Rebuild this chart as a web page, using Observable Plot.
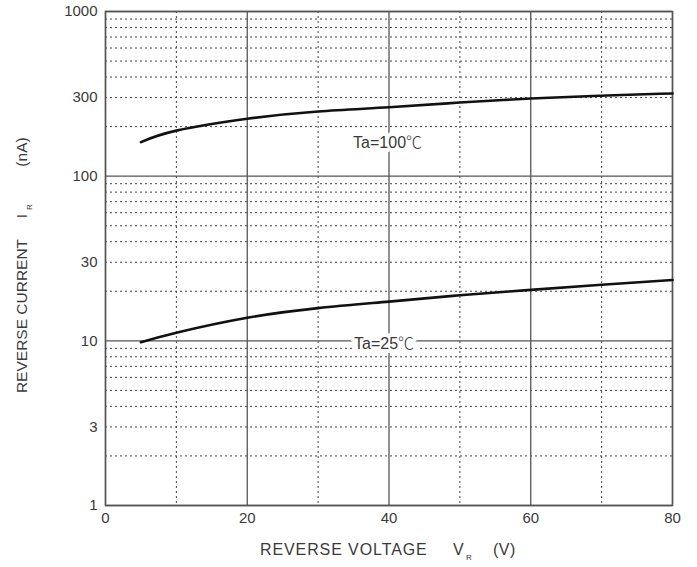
<!DOCTYPE html>
<html><head><meta charset="utf-8">
<script src="https://cdn.jsdelivr.net/npm/d3@7"></script>
<script src="https://cdn.jsdelivr.net/npm/@observablehq/plot@0.6"></script>
<style>body{margin:0;background:#fff;} svg{display:block;}</style>
</head><body><div id="chart"></div>
<script>
const voltage = [5, 10, 20, 30, 40, 50, 60, 70, 80];
const current100 = [161, 189, 223, 247, 262, 280, 296, 308, 318];
const current25 = [9.8, 11.2, 13.8, 15.8, 17.3, 18.9, 20.4, 21.9, 23.4];
const xMajor = [0, 20, 40, 60, 80];
const xMinor = [10, 30, 50, 70];
const yMajor = [1, 10, 100, 1000];
const yTicks = [1, 3, 10, 30, 100, 300, 1000];
const yMinor = [];
for (const d of [1, 10, 100]) for (let k = 2; k <= 9; k++) yMinor.push(d * k);
const labels = [
  {x: 39.8, y: 160, text: "Ta=100℃"},
  {x: 39.3, y: 9.55, text: "Ta=25℃"}
];
const rows = [
  ...voltage.map((v, i) => ({v, i: current100[i], s: "100"})),
  ...voltage.map((v, i) => ({v, i: current25[i], s: "25"}))
];
const font = "'Liberation Sans', Arial, sans-serif";
const plot = Plot.plot({
  width: 697, height: 567,
  marginLeft: 105, marginRight: 25, marginTop: 11, marginBottom: 62,
  style: {fontFamily: font, fontSize: "15px", color: "#3a3a3a", background: "#fff"},
  x: {domain: [0, 80], label: null},
  y: {type: "log", domain: [1, 1000], label: null},
  marks: [
    Plot.ruleY(yMinor, {stroke: "#444", strokeDasharray: "2,3", strokeWidth: 1}),
    Plot.ruleX(xMinor, {stroke: "#444", strokeDasharray: "2,3", strokeWidth: 1}),
    Plot.ruleY(yMajor, {stroke: "#555", strokeWidth: 1.3}),
    Plot.ruleX(xMajor, {stroke: "#555", strokeWidth: 1.3}),
    Plot.frame({stroke: "#555", strokeWidth: 1.5}),
    Plot.line(rows, {x: "v", y: "i", z: "s", stroke: "#111", strokeWidth: 2.6, curve: "natural"}),
    Plot.text(labels, {x: "x", y: "y", text: "text", fontSize: 16, fill: "#fff", stroke: "#fff", strokeWidth: 8, className: "templabel"}),
    Plot.text(labels, {x: "x", y: "y", text: "text", fontSize: 16, fill: "#3a3a3a", className: "templabel"}),
    Plot.axisX({ticks: xMajor, tickSize: 0, tickPadding: 7, fontSize: 15, label: null}),
    Plot.axisY({ticks: yTicks, tickFormat: d => String(d), tickSize: 0, tickPadding: 8, fontSize: 15, label: null})
  ]
});
const svg = d3.select(plot);
// render the ℃ sign with a full-width CJK glyph as in the original
svg.selectAll(".templabel text").each(function () {
  const t = d3.select(this);
  const s = t.text();
  const i = s.indexOf("℃");
  if (i < 0) return;
  t.text(null);
  t.append("tspan").text(s.slice(0, i));
  t.append("tspan").attr("font-family", "'Noto Sans CJK SC', sans-serif").attr("font-weight", 300).text("℃");
});
const g = svg.append("g").attr("fill", "#3a3a3a").attr("font-family", font).attr("text-anchor", "start");
// x axis title
g.append("text").attr("x", 260).attr("y", 555).attr("font-size", 16).attr("letter-spacing", "0.9px").text("REVERSE VOLTAGE");
g.append("text").attr("x", 453).attr("y", 555).attr("font-size", 16).text("V");
g.append("text").attr("x", 466).attr("y", 560).attr("font-size", 8).text("R");
g.append("text").attr("x", 493).attr("y", 555).attr("font-size", 16).attr("letter-spacing", "0.5px").text("(V)");
// y axis title
const yt = (y, size, txt, dx = 0) => g.append("text")
  .attr("transform", `translate(${27 + dx},${y}) rotate(-90)`)
  .attr("font-size", size).attr("text-anchor", "middle").text(txt);
yt(316, 15.5, "REVERSE CURRENT");
yt(216, 15.5, "I");
yt(207, 8, "R", 5);
yt(152, 15.5, "(nA)");
document.getElementById("chart").append(plot);
</script></body></html>
